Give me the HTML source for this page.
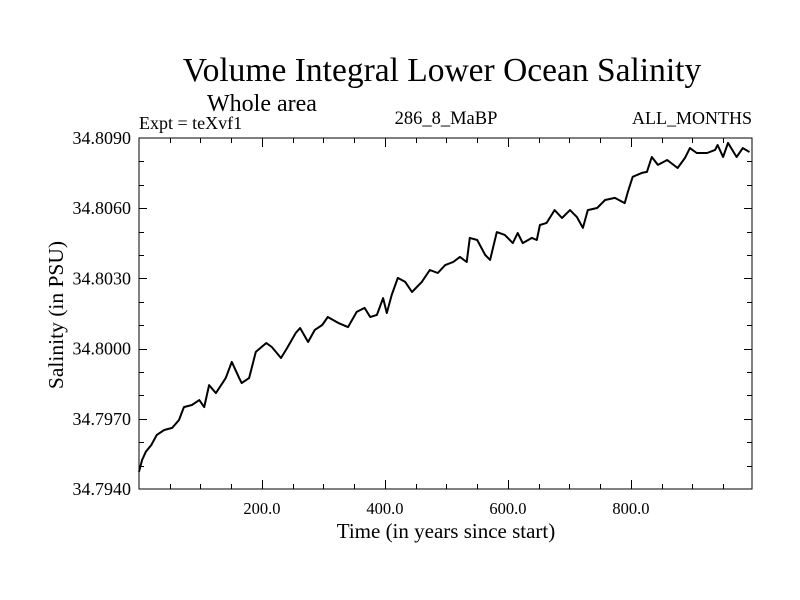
<!DOCTYPE html>
<html><head><meta charset="utf-8"><style>
html,body{margin:0;padding:0;background:#fff;}
svg{display:block;font-family:"Liberation Serif",serif;}
</style></head><body>
<svg id="chart" width="800" height="600" viewBox="0 0 800 600" xmlns="http://www.w3.org/2000/svg">
<text x="442" y="81" font-size="33.5" text-anchor="middle">Volume Integral Lower Ocean Salinity</text>
<text x="207" y="111" font-size="24">Whole area</text>
<text x="139" y="129" font-size="18">Expt = teXvf1</text>
<text x="446" y="124" font-size="18.5" text-anchor="middle">286_8_MaBP</text>
<text x="752" y="124" font-size="18" text-anchor="end">ALL_MONTHS</text>
<text transform="translate(63,315) rotate(-90)" font-size="21.5" text-anchor="middle">Salinity (in PSU)</text>
<text x="446" y="538" font-size="21" text-anchor="middle">Time (in years since start)</text>
<g id="ticks"></g>
<g id="labels"></g>
<path id="series" fill="none" stroke="#000" stroke-width="2" stroke-linejoin="round"/>
<rect x="139" y="138" width="613" height="351" fill="none" stroke="#000" stroke-width="1"/>
</svg>
<script>
const years = [0,5,11,20,29,41,54,65,73,86,98,106,114,125,141,151,163,167,179,190,207,216,231,241,255,262,275,286,298,307,324,340,354,367,376,387,397,403,411,421,433,444,460,473,486,498,511,522,533,538,550,563,571,582,595,608,616,624,639,647,652,663,676,688,701,712,722,730,745,758,774,790,795,803,818,826,834,844,859,876,888,896,907,924,937,941,950,958,972,982,993];
const salinity = [34.79474,34.79524,34.79559,34.79588,34.79631,34.79652,34.79661,34.79695,34.79750,34.79759,34.79780,34.79750,34.79844,34.79810,34.79874,34.79943,34.79874,34.79853,34.79874,34.79986,34.80024,34.80007,34.79960,34.80003,34.80067,34.80088,34.80028,34.80080,34.80101,34.80135,34.80110,34.80092,34.80157,34.80174,34.80135,34.80144,34.80216,34.80152,34.80229,34.80302,34.80285,34.80242,34.80285,34.80336,34.80323,34.80357,34.80370,34.80392,34.80370,34.80473,34.80464,34.80400,34.80379,34.80498,34.80486,34.80451,34.80494,34.80451,34.80473,34.80464,34.80528,34.80537,34.80592,34.80558,34.80592,34.80563,34.80516,34.80592,34.80601,34.80635,34.80644,34.80622,34.80669,34.80734,34.80751,34.80755,34.80819,34.80785,34.80806,34.80772,34.80815,34.80857,34.80836,34.80836,34.80849,34.80870,34.80819,34.80879,34.80819,34.80857,34.80840];
const xTickValues = [200,400,600,800];
const xTickLabels = ["200.0","400.0","600.0","800.0"];
const yTickValues = [34.794,34.797,34.800,34.803,34.806,34.809];
const yTickLabels = ["34.7940","34.7970","34.8000","34.8030","34.8060","34.8090"];
const xDomain = [0, 997];
const yDomain = [34.794, 34.809];

const L=139,R=752,T=138,B=489;
function sx(v){return L+(v-xDomain[0])/(xDomain[1]-xDomain[0])*(R-L);}
function sy(v){return B-(v-yDomain[0])/(yDomain[1]-yDomain[0])*(B-T);}
const NS="http://www.w3.org/2000/svg";
const tg=document.getElementById('ticks'), lg=document.getElementById('labels');
function line(x1,y1,x2,y2){
  const l=document.createElementNS(NS,'line');
  l.setAttribute('x1',x1);l.setAttribute('y1',y1);l.setAttribute('x2',x2);l.setAttribute('y2',y2);
  l.setAttribute('stroke','#000');l.setAttribute('stroke-width','1');
  
  
  tg.appendChild(l);
}
for(let v=50; v<xDomain[1]; v+=50){
  const major = v%200===0;
  const len = major?9:5;
  const x = Math.round(sx(v))+0.5;
  line(x,B,x,B-len); line(x,T,x,T+len);
}
for(let k=1;k<15;k++){
  const v = yDomain[0]+k*0.001;
  const major = k%3===0;
  const len = major?8:5;
  const y = Math.round(sy(v))+0.5;
  line(L,y,L+len,y); line(R,y,R-len,y);
}
xTickValues.forEach((v,i)=>{
  const t=document.createElementNS(NS,'text');
  t.setAttribute('x',sx(v));t.setAttribute('y',B+25);
  t.setAttribute('font-size','16.5');t.setAttribute('text-anchor','middle');
  
  
  t.textContent=xTickLabels[i]; lg.appendChild(t);
});
yTickValues.forEach((v,i)=>{
  const t=document.createElementNS(NS,'text');
  t.setAttribute('x',L-8);t.setAttribute('y',sy(v)+6);
  t.setAttribute('font-size','18');t.setAttribute('text-anchor','end');
  
  
  t.textContent=yTickLabels[i]; lg.appendChild(t);
});
let d='';
years.forEach((yr,i)=>{d+=(i?'L':'M')+sx(yr).toFixed(1)+' '+sy(salinity[i]).toFixed(1);});
document.getElementById('series').setAttribute('d',d);
</script>
</body></html>
